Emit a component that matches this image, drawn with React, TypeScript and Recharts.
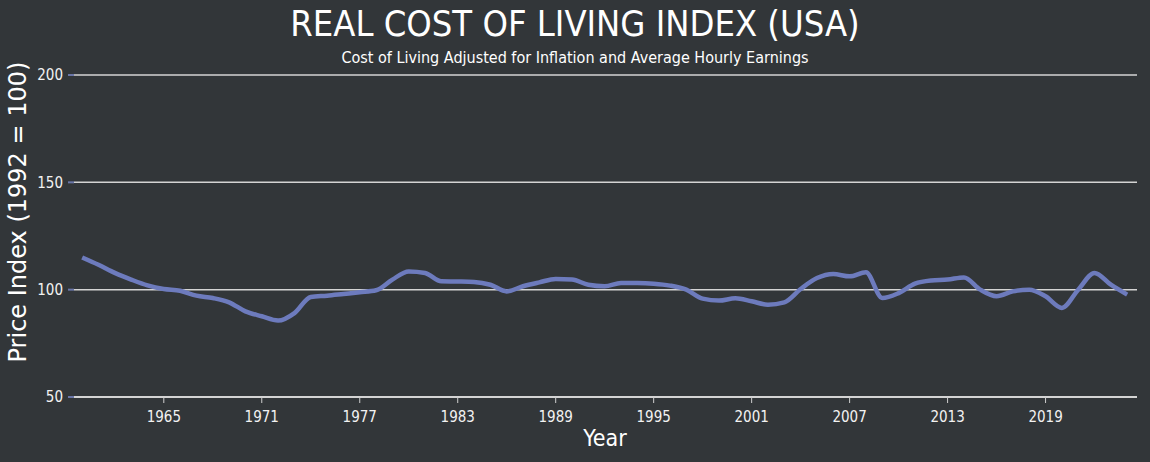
import React from 'react';
import { LineChart, Line, XAxis, YAxis, CartesianGrid } from 'recharts';

const years = [1960,1961,1962,1963,1964,1965,1966,1967,1968,1969,1970,1971,1972,1973,1974,1975,1976,1977,1978,1979,1980,1981,1982,1983,1984,1985,1986,1987,1988,1989,1990,1991,1992,1993,1994,1995,1996,1997,1998,1999,2000,2001,2002,2003,2004,2005,2006,2007,2008,2009,2010,2011,2012,2013,2014,2015,2016,2017,2018,2019,2020,2021,2022,2023,2024];
const indexValues = [115.0,111.6,107.8,104.7,102.0,100.3,99.5,97.2,96.1,94.1,89.9,87.6,85.6,89.1,96.6,97.2,98.0,98.8,99.7,104.7,108.5,107.8,103.9,103.8,103.6,102.3,99.2,101.6,103.4,105.0,104.7,102.3,101.6,103.1,103.1,102.8,101.9,100.0,95.8,94.9,96.0,94.6,93.0,94.1,100.3,105.4,107.3,106.2,108.1,96.1,98.4,102.8,104.3,104.7,105.7,100.0,96.9,99.2,100.0,96.9,91.5,100.0,107.8,102.3,97.7];
const xTicks = [1965,1971,1977,1983,1989,1995,2001,2007,2013,2019];
const yTicks = [50,100,150,200];

const data = years.map((y, i) => ({ year: y, value: indexValues[i] }));

const BG = '#323639';
const FONT = '"DejaVu Sans Condensed", "DejaVu Sans", sans-serif';

export default function App() {
  return (
    <div style={{ position: 'absolute', left: 0, top: 0, width: 1150, height: 462, background: BG, fontFamily: FONT, overflow: 'hidden' }}>
      <div style={{ position: 'absolute', left: 0, top: 0, width: 1150, textAlign: 'center', color: '#ffffff', fontSize: 36, lineHeight: '48px' }}>
        REAL COST OF LIVING INDEX (USA)
      </div>
      <div style={{ position: 'absolute', left: 0, top: 48, width: 1150, textAlign: 'center', color: '#ffffff', fontSize: 16, lineHeight: '20px' }}>
        Cost of Living Adjusted for Inflation and Average Hourly Earnings
      </div>
      <div style={{ position: 'absolute', left: 18, top: 212, width: 0, height: 0 }}>
        <div style={{ position: 'absolute', transform: 'translate(-50%, -50%) rotate(-90deg)', whiteSpace: 'nowrap', color: '#ffffff', fontSize: 24, fontFamily: '"DejaVu Sans", sans-serif' }}>
          Price Index (1992 = 100)
        </div>
      </div>
      <div style={{ position: 'absolute', left: 605, top: 438, width: 0, height: 0 }}>
        <div style={{ position: 'absolute', transform: 'translate(-50%, -50%)', whiteSpace: 'nowrap', color: '#ffffff', fontSize: 23 }}>
          Year
        </div>
      </div>
      <LineChart width={1150} height={462} data={data} margin={{ top: 75, right: 13, bottom: 0, left: 0 }} style={{ position: 'absolute', left: 0, top: 0 }}>
        <CartesianGrid horizontal={true} vertical={false} stroke="#d4d4d4" strokeWidth={1.5} strokeOpacity={1} />
        <XAxis
          dataKey="year"
          type="number"
          domain={[1959.5, 2024.6]}
          allowDataOverflow
          ticks={xTicks}
          height={65}
          axisLine={{ stroke: '#d4d4d4', strokeWidth: 2 }}
          tickLine={{ stroke: '#cfcfcf' }}
          tickSize={6}
          tickMargin={8}
          tick={{ fill: '#f2f2f2', fontSize: 15, fontFamily: FONT }}
        />
        <YAxis
          type="number"
          domain={[50, 200]}
          ticks={yTicks}
          width={74}
          axisLine={false}
          tickLine={{ stroke: '#6a76a8', strokeWidth: 2 }}
          tickSize={6}
          tickMargin={5}
          tick={{ fill: '#f2f2f2', fontSize: 15, fontFamily: FONT }}
        />
        <Line
          type="monotone"
          dataKey="value"
          stroke="#6d7bbd"
          strokeWidth={4.5}
          dot={false}
          isAnimationActive={false}
        />
      </LineChart>
    </div>
  );
}
